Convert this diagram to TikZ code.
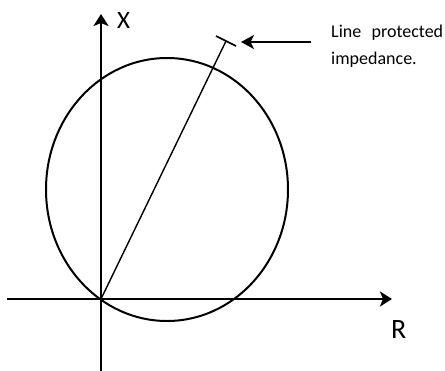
\documentclass[tikz,border=0pt]{standalone}
\usepackage{fontspec}
\setmainfont{Carlito}
\usetikzlibrary{arrows.meta}
\begin{document}
\begin{tikzpicture}[x=1pt,y=-1pt,
  axis/.style={line width=2pt,-{Stealth[length=12pt,width=15pt,inset=3pt]}},
  ptr/.style={line width=2pt,-{Stealth[length=13pt,width=14pt,inset=3.5pt]}},
  lbl/.style={inner sep=0pt,anchor=base west}]
\useasboundingbox (0,0) rectangle (445,370);
\coordinate (O) at (101,299);
\coordinate (Ybot) at (101,371);
\coordinate (Ytop) at (101,14);
\coordinate (Xl) at (7,299);
\coordinate (Xr) at (392,299);
\coordinate (Z) at (226,41);
\coordinate (Ta) at (216,36);
\coordinate (Tb) at (236,46);
\coordinate (Ps) at (311,42);
\coordinate (Pe) at (241,42);
\draw[line width=2pt] (167,189.5) ellipse [x radius=121pt, y radius=131.5pt];
\draw[axis] (Ybot) -- (Ytop);
\draw[axis] (Xl) -- (Xr);
\draw[line width=1.4pt] (O) -- (Z);
\draw[line width=1.7pt] (Ta) -- (Tb);
\draw[ptr] (Ps) -- (Pe);
\node[lbl,font=\fontsize{25}{25}\selectfont] (xl) at (117,28) {X};
\node[lbl,font=\fontsize{28}{28}\selectfont] (rl) at (391,338) {R};
\node[lbl,font=\fontsize{18}{18}\selectfont] (t1) at (331,37) {\makebox[112pt][s]{Line protected}};
\node[lbl,font=\fontsize{18}{18}\selectfont] (t2) at (331,64) {impedance.};
\end{tikzpicture}
\end{document}
